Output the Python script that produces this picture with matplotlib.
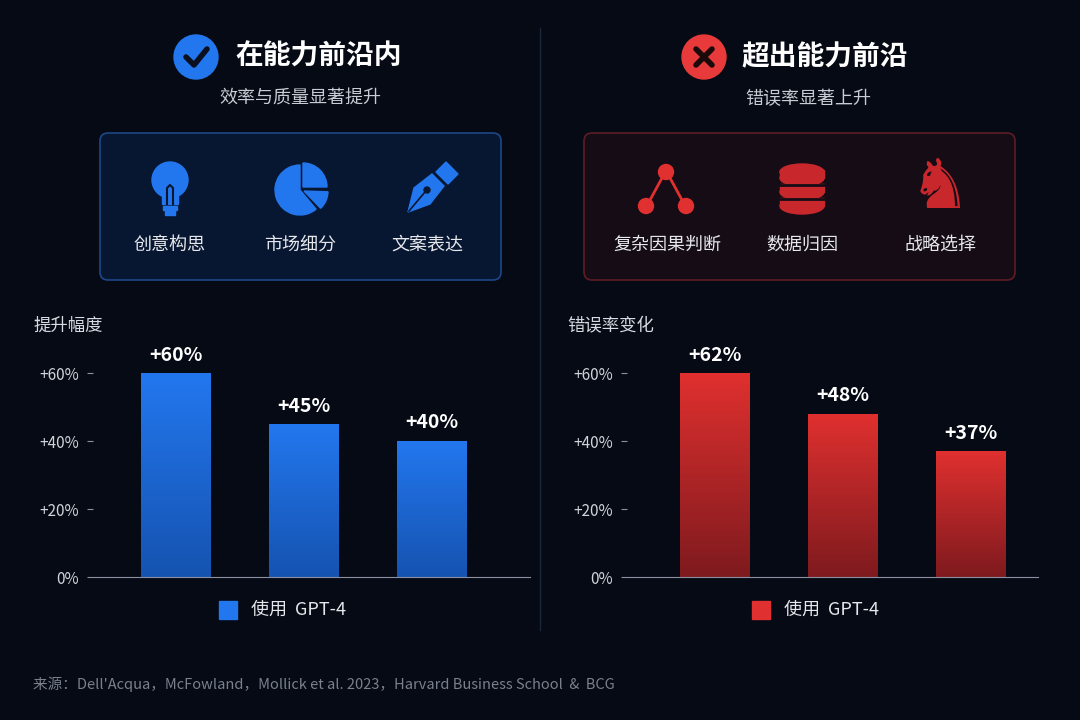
import numpy as np
import matplotlib.pyplot as plt
from matplotlib.patches import FancyBboxPatch, Circle, Rectangle, Wedge, Ellipse, Polygon
from matplotlib.colors import LinearSegmentedColormap

plt.rcParams['font.family'] = ['Noto Sans CJK SC', 'DejaVu Sans']

# ===== Data =====
left_cats = ["创意构思", "市场细分", "文案表达"]
left_vals = [60, 45, 40]
right_cats = ["复杂因果判断", "数据归因", "战略选择"]
right_vals = [62, 48, 37]
yticks = [0, 20, 40, 60]
ytick_labels = ["0%", "+20%", "+40%", "+60%"]

BG = "#050a14"
BLUE, BLUE_D = "#2377ee", "#1553b0"
RED, RED_D = "#e0302f", "#7e1a1e"
W, H = 1080, 720

fig = plt.figure(figsize=(10.8, 7.2), dpi=100, facecolor=BG)
bg = fig.add_axes([0, 0, 1, 1])
bg.set_xlim(0, W); bg.set_ylim(H, 0); bg.axis("off")
bg.set_facecolor(BG)

# divider
bg.plot([540, 540], [28, 630], color="#1c2638", lw=1)

# headers
bg.add_patch(Circle((196, 57), 22, color=BLUE))
bg.plot([186, 194, 207], [57, 65, 49], color="#0a1020", lw=4, solid_capstyle="round")
bg.text(235, 57, "在能力前沿内", color="white", fontsize=20, fontweight="bold", va="center")
bg.text(300, 99, "效率与质量显著提升", color="#c8ccd4", fontsize=13, ha="center", va="center")

bg.add_patch(Circle((704, 57), 22, color="#e83a3a"))
bg.plot([696, 712], [49, 65], color="#1a0a0a", lw=4, solid_capstyle="round")
bg.plot([696, 712], [65, 49], color="#1a0a0a", lw=4, solid_capstyle="round")
bg.text(742, 57, "超出能力前沿", color="white", fontsize=20, fontweight="bold", va="center")
bg.text(808, 99, "错误率显著上升", color="#c8ccd4", fontsize=13, ha="center", va="center")

# boxes
bg.add_patch(FancyBboxPatch((100, 133), 401, 147, boxstyle="round,pad=0,rounding_size=8",
                            fc="#081731", ec="#1d4788", lw=1.2))
bg.add_patch(FancyBboxPatch((584, 133), 431, 147, boxstyle="round,pad=0,rounding_size=8",
                            fc="#150c16", ec="#5e1d26", lw=1.2))

# left icons (y axis inverted: data angle = -visual angle)
bg.add_patch(Circle((170, 180), 18, color=BLUE))
bg.add_patch(Rectangle((162, 190), 16, 14, color=BLUE))
bg.add_patch(Rectangle((163, 206), 14, 4, color=BLUE))
bg.add_patch(Rectangle((165, 211), 10, 4, color=BLUE))
bg.plot([167, 167, 170, 173, 173], [204, 188, 185, 188, 204], color="#081731", lw=1.5)
bg.add_patch(Wedge((300, 190), 25, 50, 270, color=BLUE))
bg.add_patch(Wedge((303, 187), 24, 270, 360, color=BLUE))
bg.add_patch(Wedge((304, 191), 24, 2, 46, color=BLUE))
bg.add_patch(Polygon([[408, 212], [414, 188], [432, 174], [444, 186], [430, 204]], color=BLUE))
bg.add_patch(Polygon([[436, 172], [446, 162], [458, 174], [448, 184]], color=BLUE))
bg.add_patch(Circle((427, 190), 3, color="#081731"))
bg.plot([409, 425], [211, 192], color="#081731", lw=1.2)
for x, lab in zip([170, 300, 427], left_cats):
    bg.text(x, 245, lab, color="#e6e8ec", fontsize=13, ha="center", va="center")

# right icons
for cx, cy in [(666, 172), (646, 206), (686, 206)]:
    bg.add_patch(Circle((cx, cy), 7.5, color=RED))
bg.plot([662, 650], [178, 200], color=RED, lw=2)
bg.plot([670, 682], [178, 200], color=RED, lw=2)
for cy in [206, 192, 178]:
    bg.add_patch(Ellipse((802, cy), 44, 16, color="#c8282c"))
    bg.add_patch(Rectangle((780, cy - 8), 44, 8, color="#c8282c"))
for cy in [185, 199]:
    bg.plot([780, 824], [cy, cy], color="#150c16", lw=2)
bg.add_patch(Ellipse((802, 172), 44, 16, color="#c8282c"))
bg.text(940, 188, "♞", color="#c8282c", fontsize=50, ha="center", va="center", family="DejaVu Sans")
for x, lab in zip([667, 802, 940], right_cats):
    bg.text(x, 245, lab, color="#e6e8ec", fontsize=13, ha="center", va="center")

# ===== Bar charts =====
def fy(py):
    return (H - py) / H

def bar_panel(x0, x1, centers, vals, c_top, c_bot, ylabel, legend_x):
    ax = fig.add_axes([x0 / W, fy(577), (x1 - x0) / W, (577 - 373) / H])
    ax.set_facecolor("none")
    unit = 128
    pos = np.arange(len(vals))
    bars = ax.bar(pos, vals, width=70 / unit, color=c_top)
    grad = np.linspace(0, 1, 256).reshape(-1, 1)
    cmap = LinearSegmentedColormap.from_list("g", [c_bot, c_top])
    for b, v in zip(bars, vals):
        b.set_alpha(0)
        im = ax.imshow(grad, cmap=cmap, aspect="auto", origin="lower",
                       extent=[b.get_x(), b.get_x() + b.get_width(), 0, min(v, 60)], zorder=2)
        im.set_clip_path(b)
        ax.text(b.get_x() + b.get_width() / 2, min(v, 60) + 2.5, f"+{v}%", color="white",
                fontsize=14, fontweight="bold", ha="center", va="bottom", clip_on=False)
    ax.set_xlim((x0 - centers[0]) / unit, (x1 - centers[0]) / unit)
    ax.set_ylim(0, 60)
    ax.set_xticks([])
    ax.set_yticks(yticks)
    ax.set_yticklabels(ytick_labels, color="#d0d3da", fontsize=11)
    ax.tick_params(axis="y", length=4, color="#8a90a0", pad=6)
    for s in ["top", "right", "left"]:
        ax.spines[s].set_visible(False)
    ax.spines["bottom"].set_color("#8a90a0")
    bg.text(x0 - 60, 326, ylabel, color="#d8dbe2", fontsize=12.5, va="center")
    bg.add_patch(Rectangle((legend_x, 601), 18, 18, color=c_top))
    bg.text(legend_x + 32, 610, "使用  GPT-4", color="#e6e8ec", fontsize=13, va="center")

bar_panel(93, 530, [176, 305, 432], left_vals, BLUE, BLUE_D, "提升幅度", 219)
bar_panel(627, 1038, [715, 842, 969], right_vals, RED, RED_D, "错误率变化", 752)

bg.text(33, 684, "来源：Dell'Acqua，McFowland，Mollick et al. 2023，Harvard Business School  &  BCG",
        color="#7a808c", fontsize=10.5, va="center")

fig.savefig("out.png", dpi=100, facecolor=BG)
